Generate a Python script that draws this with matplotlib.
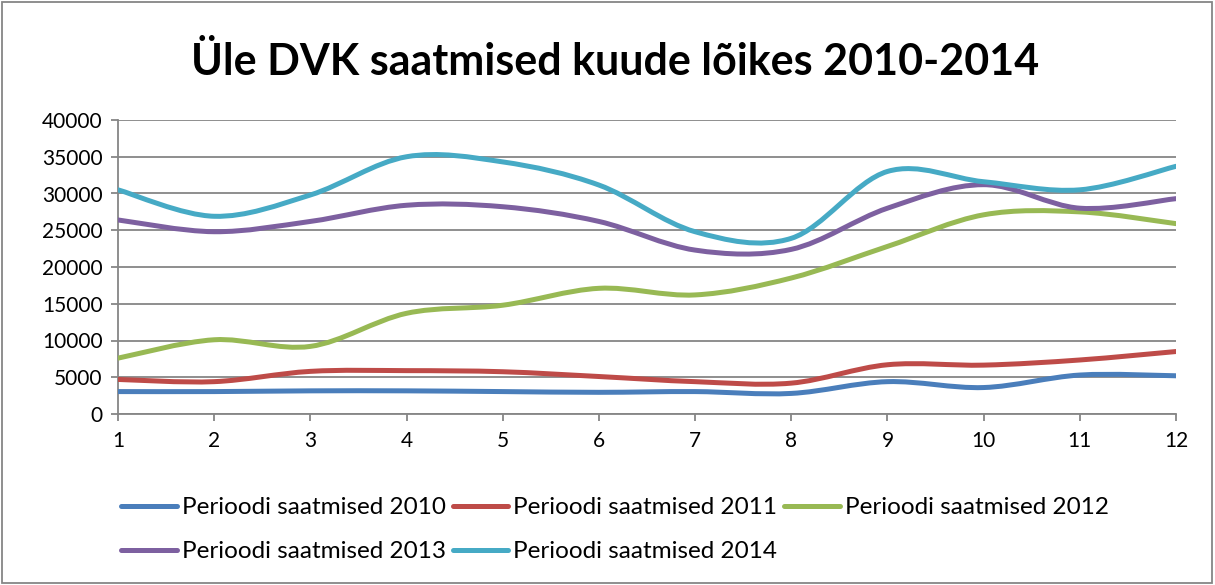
import matplotlib.pyplot as plt
from matplotlib.path import Path
from matplotlib.patches import PathPatch, Rectangle
from matplotlib.lines import Line2D
import numpy as np

plt.rcParams['font.family'] = ['Lato', 'DejaVu Sans']

months = [1, 2, 3, 4, 5, 6, 7, 8, 9, 10, 11, 12]
s2010 = [3050, 3050, 3150, 3150, 3050, 2950, 3050, 2800, 4400, 3600, 5300, 5200]
s2011 = [4700, 4400, 5800, 5900, 5750, 5100, 4400, 4200, 6700, 6650, 7350, 8500]
s2012 = [7600, 10100, 9200, 13700, 14800, 17100, 16200, 18500, 22800, 27100, 27500, 25900]
s2013 = [26400, 24800, 26200, 28400, 28200, 26200, 22300, 22400, 28000, 31200, 28000, 29300]
s2014 = [30500, 26900, 29800, 35000, 34300, 31150, 24800, 23900, 33000, 31600, 30500, 33700]
labels = ['Perioodi saatmised 2010', 'Perioodi saatmised 2011', 'Perioodi saatmised 2012',
          'Perioodi saatmised 2013', 'Perioodi saatmised 2014']
colors = ['#4A7EBB', '#BE4B48', '#98B954', '#7D60A0', '#46AAC5']


def smooth_path(x, y):
    # Excel-like smoothed line: cubic bezier segments through the points
    p = np.column_stack([x, y]).astype(float)
    n = len(p)
    verts = [p[0]]
    codes = [Path.MOVETO]
    for i in range(n - 1):
        p0 = p[i - 1] if i > 0 else p[i]
        p3 = p[i + 2] if i + 2 < n else p[i + 1]
        c1 = p[i] + (p[i + 1] - p0) / 6
        c2 = p[i + 1] - (p3 - p[i]) / 6
        verts += [c1, c2, p[i + 1]]
        codes += [Path.CURVE4] * 3
    return Path(verts, codes)


fig = plt.figure(figsize=(12.15, 5.85), dpi=100)
ax = fig.add_axes([118 / 1215, 1 - 414 / 585, (1176 - 118) / 1215, (414 - 120) / 585])

for ser, col in zip([s2010, s2011, s2012, s2013, s2014], colors):
    ax.add_patch(PathPatch(smooth_path(months, ser), fill=False, edgecolor=col,
                           lw=3.6, capstyle='round', joinstyle='round', zorder=3))

ax.set_xlim(1, 12)
ax.set_ylim(0, 40000)
ax.set_xticks(months)
ax.set_yticks(np.arange(0, 40001, 5000))
ax.grid(axis='y', color='#868686', lw=1.3)
ax.set_axisbelow(True)
for s in ['top', 'right']:
    ax.spines[s].set_visible(False)
for s in ['left', 'bottom']:
    ax.spines[s].set_color('#868686')
    ax.spines[s].set_linewidth(1.3)
ax.tick_params(axis='both', colors='#868686', labelcolor='black', labelsize=15,
               length=5, width=1.3, direction='out')
ax.tick_params(axis='y', pad=6)
ax.tick_params(axis='x', pad=7)

fig.text(0.506, 0.894, 'Üle DVK saatmised kuude lõikes 2010-2014', ha='center', va='center',
         fontsize=31, fontweight='bold')

handles = [Line2D([], [], color=c, lw=3.6, solid_capstyle='round') for c in colors]
order = [0, 3, 1, 4, 2]
fig.legend([handles[i] for i in order], [labels[i] for i in order], ncol=3,
           loc='upper left', bbox_to_anchor=(121 / 1215, 1 - 497 / 585), frameon=False,
           fontsize=17.5, handlelength=2.3, handletextpad=0.2, columnspacing=0.28,
           labelspacing=0.95, borderpad=0, borderaxespad=0)

fig.patches.append(Rectangle((2 / 1215, 2 / 585), 1210 / 1215, 581 / 585, transform=fig.transFigure,
                             fill=False, edgecolor='#868686', lw=1.3))

plt.savefig('out.png', dpi=100)
